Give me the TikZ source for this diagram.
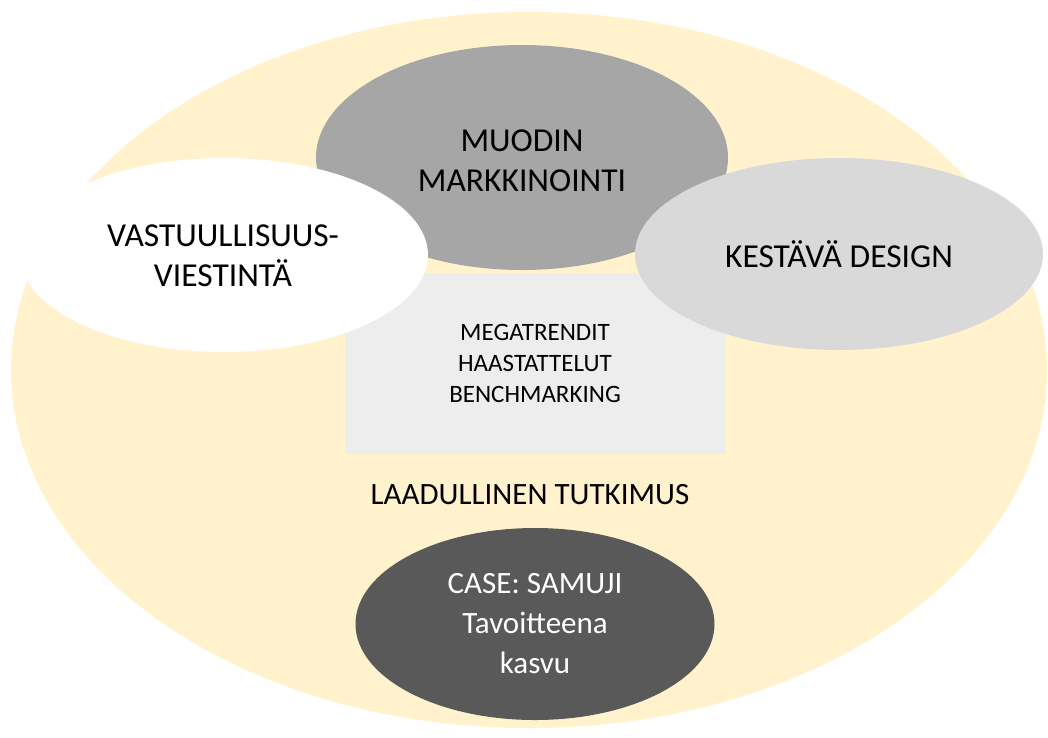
\documentclass[tikz,border=0pt]{standalone}
\usepackage{fontspec}
\setmainfont{Carlito}
\usetikzlibrary{shapes.geometric}
\definecolor{bgyellow}{HTML}{FFF2CC}
\definecolor{midgray}{HTML}{A6A6A6}
\definecolor{lightgray}{HTML}{D9D9D9}
\definecolor{boxgray}{HTML}{EDEDED}
\definecolor{darkgray}{HTML}{595959}
\tikzset{
  blob/.style={ellipse, inner sep=0pt, draw=none, align=center,
    font=\fontsize{33.5}{40}\selectfont},
  boxtext/.style={align=center, font=\fontsize{25}{31}\selectfont},
}
\begin{document}
\begin{tikzpicture}[x=1pt,y=-1pt]
\useasboundingbox (0,0) rectangle (1048,737);
% big background ellipse
\node[ellipse, fill=bgyellow, minimum width=1036pt, minimum height=716pt, inner sep=0pt] (outer) at (529,370) {};
% central rectangle
\node[fill=boxgray, minimum width=380pt, minimum height=181pt, inner sep=0pt] (box) at (535,363.5) {};
\node[boxtext] (methods) at (535,363) {MEGATRENDIT\\HAASTATTELUT\\BENCHMARKING};
% top ellipse
\node[blob, fill=midgray, minimum width=412pt, minimum height=225pt] (muodin) at (522,157.5) {};
\node[blob] (muodintext) at (522,161) {MUODIN\\MARKKINOINTI};
% left ellipse
\node[blob, fill=white, minimum width=408pt, minimum height=194pt] (vastuu) at (224,255) {};
\node[blob] (vastuutext) at (223,256) {VASTUULLISUUS-\\VIESTINTÄ};
% right ellipse
\node[blob, fill=lightgray, minimum width=408pt, minimum height=192pt] (kestava) at (839,254) {KESTÄVÄ DESIGN};
% label
\node[font=\fontsize{31}{37}\selectfont, inner sep=0pt] (laadullinen) at (530,495) {LAADULLINEN TUTKIMUS};
% bottom ellipse
\node[blob, fill=darkgray, text=white, minimum width=359pt, minimum height=192pt,
  font=\fontsize{31}{40}\selectfont] (case) at (535,624) {CASE: SAMUJI\\Tavoitteena\\kasvu};
\end{tikzpicture}
\end{document}
